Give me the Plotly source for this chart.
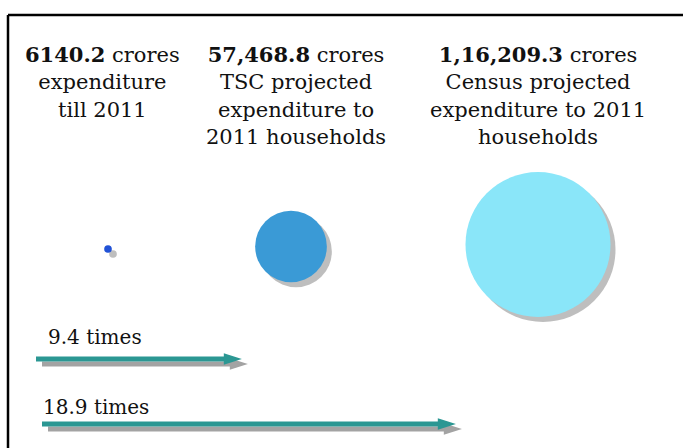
import plotly.graph_objects as go

# Expenditure figures (crores) and their captions
amount_labels = ["6140.2", "57,468.8", "1,16,209.3"]
amounts = [6140.2, 57468.8, 116209.3]
captions = [
    "expenditure<br>till 2011",
    "TSC projected<br>expenditure to<br>2011 households",
    "Census projected<br>expenditure to 2011<br>households",
]
bubble_colors = ["#2152d6", "#3a9ad6", "#8ae6f9"]

# Multiples of the base expenditure
times = [9.4, 18.9]
times_labels = ["9.4 times", "18.9 times"]

# Layout positions (pixel coordinates)
bubble_x = [108, 291, 538]
bubble_y = [249, 246.5, 244.5]
caption_x = [102, 296, 538]
arrow_x0 = [36, 42]
arrow_y = [359, 424]
label_x = [46, 41]
label_y = [337, 407]
px_per_time = 21.9
max_diameter = 145
shadow_dx, shadow_dy = 5, 5

W, H = 683, 448
FONT = "DejaVu Serif"

fig = go.Figure()

# bubble shadows
fig.add_trace(go.Scatter(
    x=[x + shadow_dx for x in bubble_x],
    y=[y + shadow_dy for y in bubble_y],
    mode="markers",
    marker=dict(size=amounts, sizemode="diameter",
                sizeref=max(amounts) / max_diameter,
                color="#a3a3a3", line=dict(width=0)),
    hoverinfo="skip", showlegend=False,
))
# bubbles
fig.add_trace(go.Scatter(
    x=bubble_x, y=bubble_y,
    mode="markers",
    marker=dict(size=amounts, sizemode="diameter",
                sizeref=max(amounts) / max_diameter,
                color=bubble_colors, opacity=1, line=dict(width=0)),
    hoverinfo="skip", showlegend=False,
))

# arrows: gray shadow first, teal on top
for t, x0, y in zip(times, arrow_x0, arrow_y):
    x1 = x0 + t * px_per_time
    for dx, dy, col in [(6, 5, "#a3a3a3"), (0, 0, "#2b9793")]:
        fig.add_trace(go.Scatter(
            x=[x0 + dx, x1 + dx], y=[y + dy, y + dy],
            mode="lines+markers",
            line=dict(color=col, width=5),
            marker=dict(symbol="arrow", angleref="previous", size=[0, 19],
                        color=col, opacity=1, line=dict(width=0)),
            hoverinfo="skip", showlegend=False,
        ))

annotations = []
for lab, cap, cx in zip(amount_labels, captions, caption_x):
    annotations.append(dict(
        x=cx, y=40, xref="x", yref="y", xanchor="center", yanchor="top",
        text=f"<b>{lab}</b> crores<br>{cap}", showarrow=False, align="center",
        font=dict(family=FONT, size=21, color="#111111"),
    ))
for lab, lx, ly in zip(times_labels, label_x, label_y):
    annotations.append(dict(
        x=lx, y=ly, xref="x", yref="y", xanchor="left", yanchor="middle",
        text=lab, showarrow=False,
        font=dict(family=FONT, size=20, color="#111111"),
    ))

# frame (top and left edges)
shapes = [
    dict(type="line", xref="x", yref="y", x0=8, y0=15, x1=W, y1=15,
         line=dict(color="black", width=2.5)),
    dict(type="line", xref="x", yref="y", x0=8, y0=15, x1=8, y1=H,
         line=dict(color="black", width=2.5)),
]

fig.update_layout(
    width=W, height=H,
    margin=dict(l=0, r=0, t=0, b=0),
    paper_bgcolor="white", plot_bgcolor="white",
    xaxis=dict(range=[0, W], visible=False, fixedrange=True),
    yaxis=dict(range=[H, 0], visible=False, fixedrange=True),
    annotations=annotations, shapes=shapes,
    hovermode=False,
)

fig.write_html("out.html", config={"displayModeBar": False})
